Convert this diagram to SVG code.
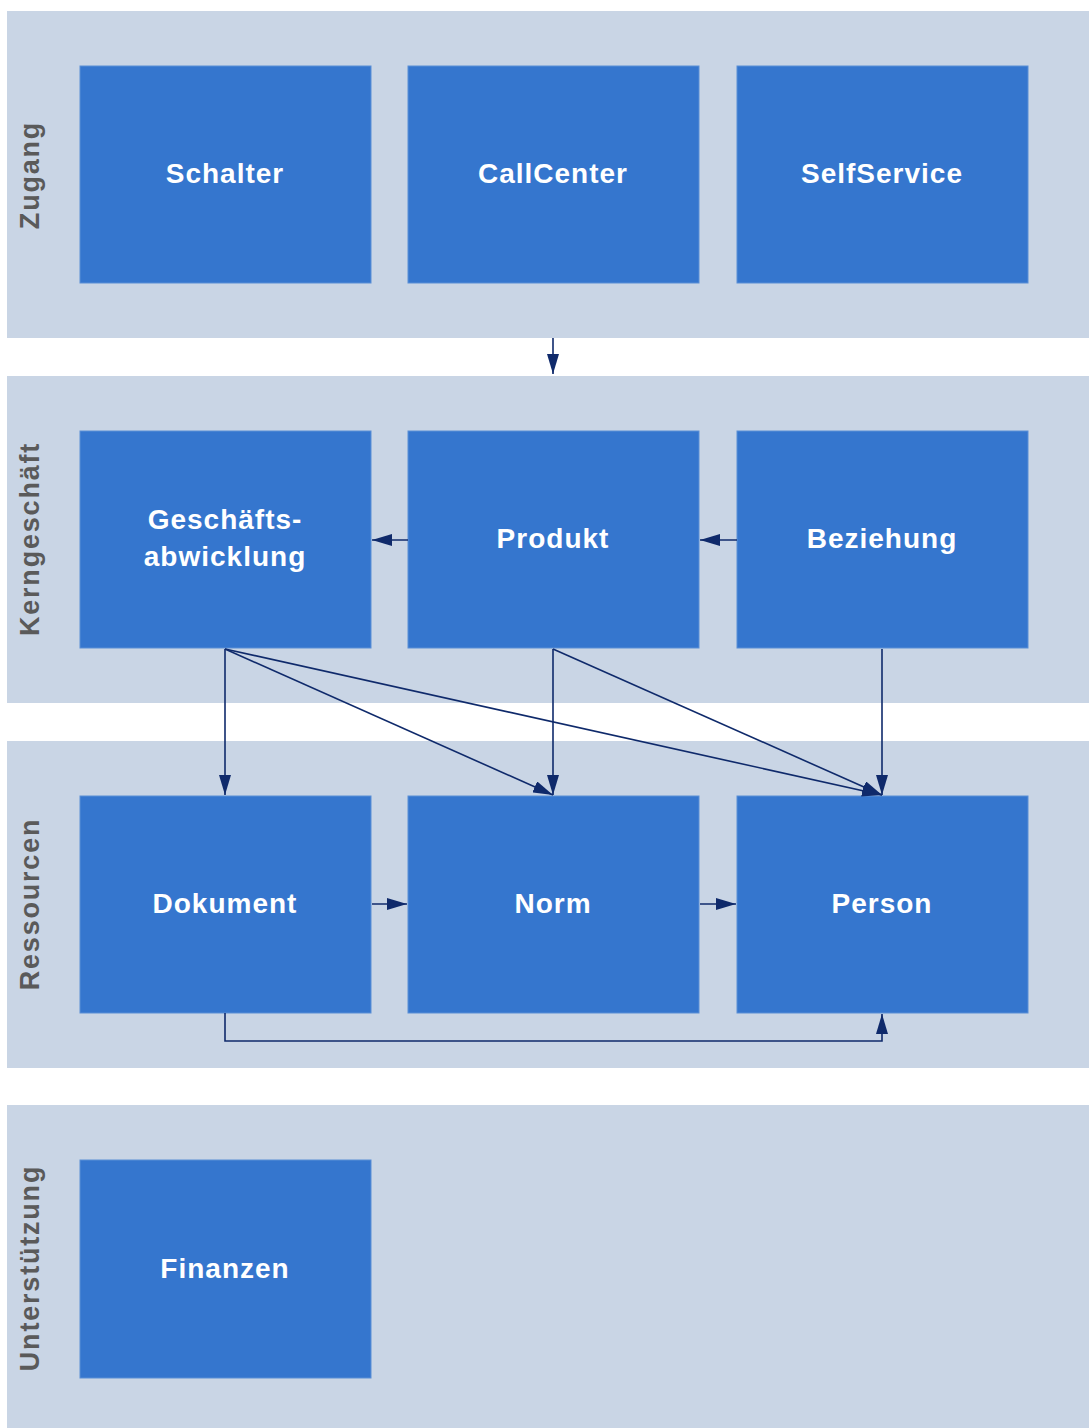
<svg xmlns="http://www.w3.org/2000/svg" width="1089" height="1428" viewBox="0 0 1089 1428">
<style>
.lane{fill:#C9D5E5;}
.box{fill:#3576CE;stroke:#5B8FD6;stroke-width:1;}
.nt{font-family:"Liberation Sans",Arial,sans-serif;font-weight:bold;font-size:28px;letter-spacing:1px;fill:#FFFFFF;text-anchor:middle;}
.lt{font-family:"Liberation Sans",Arial,sans-serif;font-weight:bold;font-size:27px;letter-spacing:1.8px;fill:#5A5A5A;text-anchor:middle;}
.c{fill:none;stroke:#0F2A6B;stroke-width:1.6;marker-end:url(#ah);}
</style>
<defs>
<marker id="ah" viewBox="0 0 20 12" refX="20" refY="6" markerWidth="20" markerHeight="12" markerUnits="userSpaceOnUse" orient="auto">
<path d="M0,0 L20,6 L0,12 Z" fill="#0F2A6B"/>
</marker>
</defs>
<rect width="1089" height="1428" fill="#FFFFFF"/>
<g id="lanes">
<g id="lane-zugang"><rect class="lane" x="7" y="11" width="1082" height="327"/><text class="lt" transform="translate(39,175) rotate(-90)">Zugang</text></g>
<g id="lane-kern"><rect class="lane" x="7" y="376" width="1082" height="327"/><text class="lt" transform="translate(39,539) rotate(-90)">Kerngeschäft</text></g>
<g id="lane-ress"><rect class="lane" x="7" y="741" width="1082" height="327"/><text class="lt" transform="translate(39,904) rotate(-90)">Ressourcen</text></g>
<g id="lane-unter"><rect class="lane" x="7" y="1105" width="1082" height="323"/><text class="lt" transform="translate(39,1268) rotate(-90)">Unterstützung</text></g>
</g>
<g id="n-schalter"><rect class="box" x="80" y="66" width="291" height="217"/><text class="nt" x="225" y="183">Schalter</text></g>
<g id="n-callcenter"><rect class="box" x="408" y="66" width="291" height="217"/><text class="nt" x="553" y="183">CallCenter</text></g>
<g id="n-selfservice"><rect class="box" x="737" y="66" width="291" height="217"/><text class="nt" x="882" y="183">SelfService</text></g>
<g id="n-geschaeft"><rect class="box" x="80" y="431" width="291" height="217"/><text class="nt" x="225" y="529">Geschäfts-</text><text class="nt" x="225" y="566">abwicklung</text></g>
<g id="n-produkt"><rect class="box" x="408" y="431" width="291" height="217"/><text class="nt" x="553" y="548">Produkt</text></g>
<g id="n-beziehung"><rect class="box" x="737" y="431" width="291" height="217"/><text class="nt" x="882" y="548">Beziehung</text></g>
<g id="n-dokument"><rect class="box" x="80" y="796" width="291" height="217"/><text class="nt" x="225" y="913">Dokument</text></g>
<g id="n-norm"><rect class="box" x="408" y="796" width="291" height="217"/><text class="nt" x="553" y="913">Norm</text></g>
<g id="n-person"><rect class="box" x="737" y="796" width="291" height="217"/><text class="nt" x="882" y="913">Person</text></g>
<g id="n-finanzen"><rect class="box" x="80" y="1160" width="291" height="218"/><text class="nt" x="225" y="1278">Finanzen</text></g>
<g id="connectors">
<path class="c" d="M553,338 L553,374"/>
<path class="c" d="M408,540 L372,540"/>
<path class="c" d="M737,540 L700,540"/>
<path class="c" d="M225,649 L225,795"/>
<path class="c" d="M225,649 L553,795"/>
<path class="c" d="M225,649 L882,795"/>
<path class="c" d="M553,649 L553,795"/>
<path class="c" d="M553,649 L882,795"/>
<path class="c" d="M882,649 L882,795"/>
<path class="c" d="M372,904 L407,904"/>
<path class="c" d="M700,904 L736,904"/>
<path class="c" d="M225,1013 L225,1041 L882,1041 L882,1014"/>
</g>
</svg>
